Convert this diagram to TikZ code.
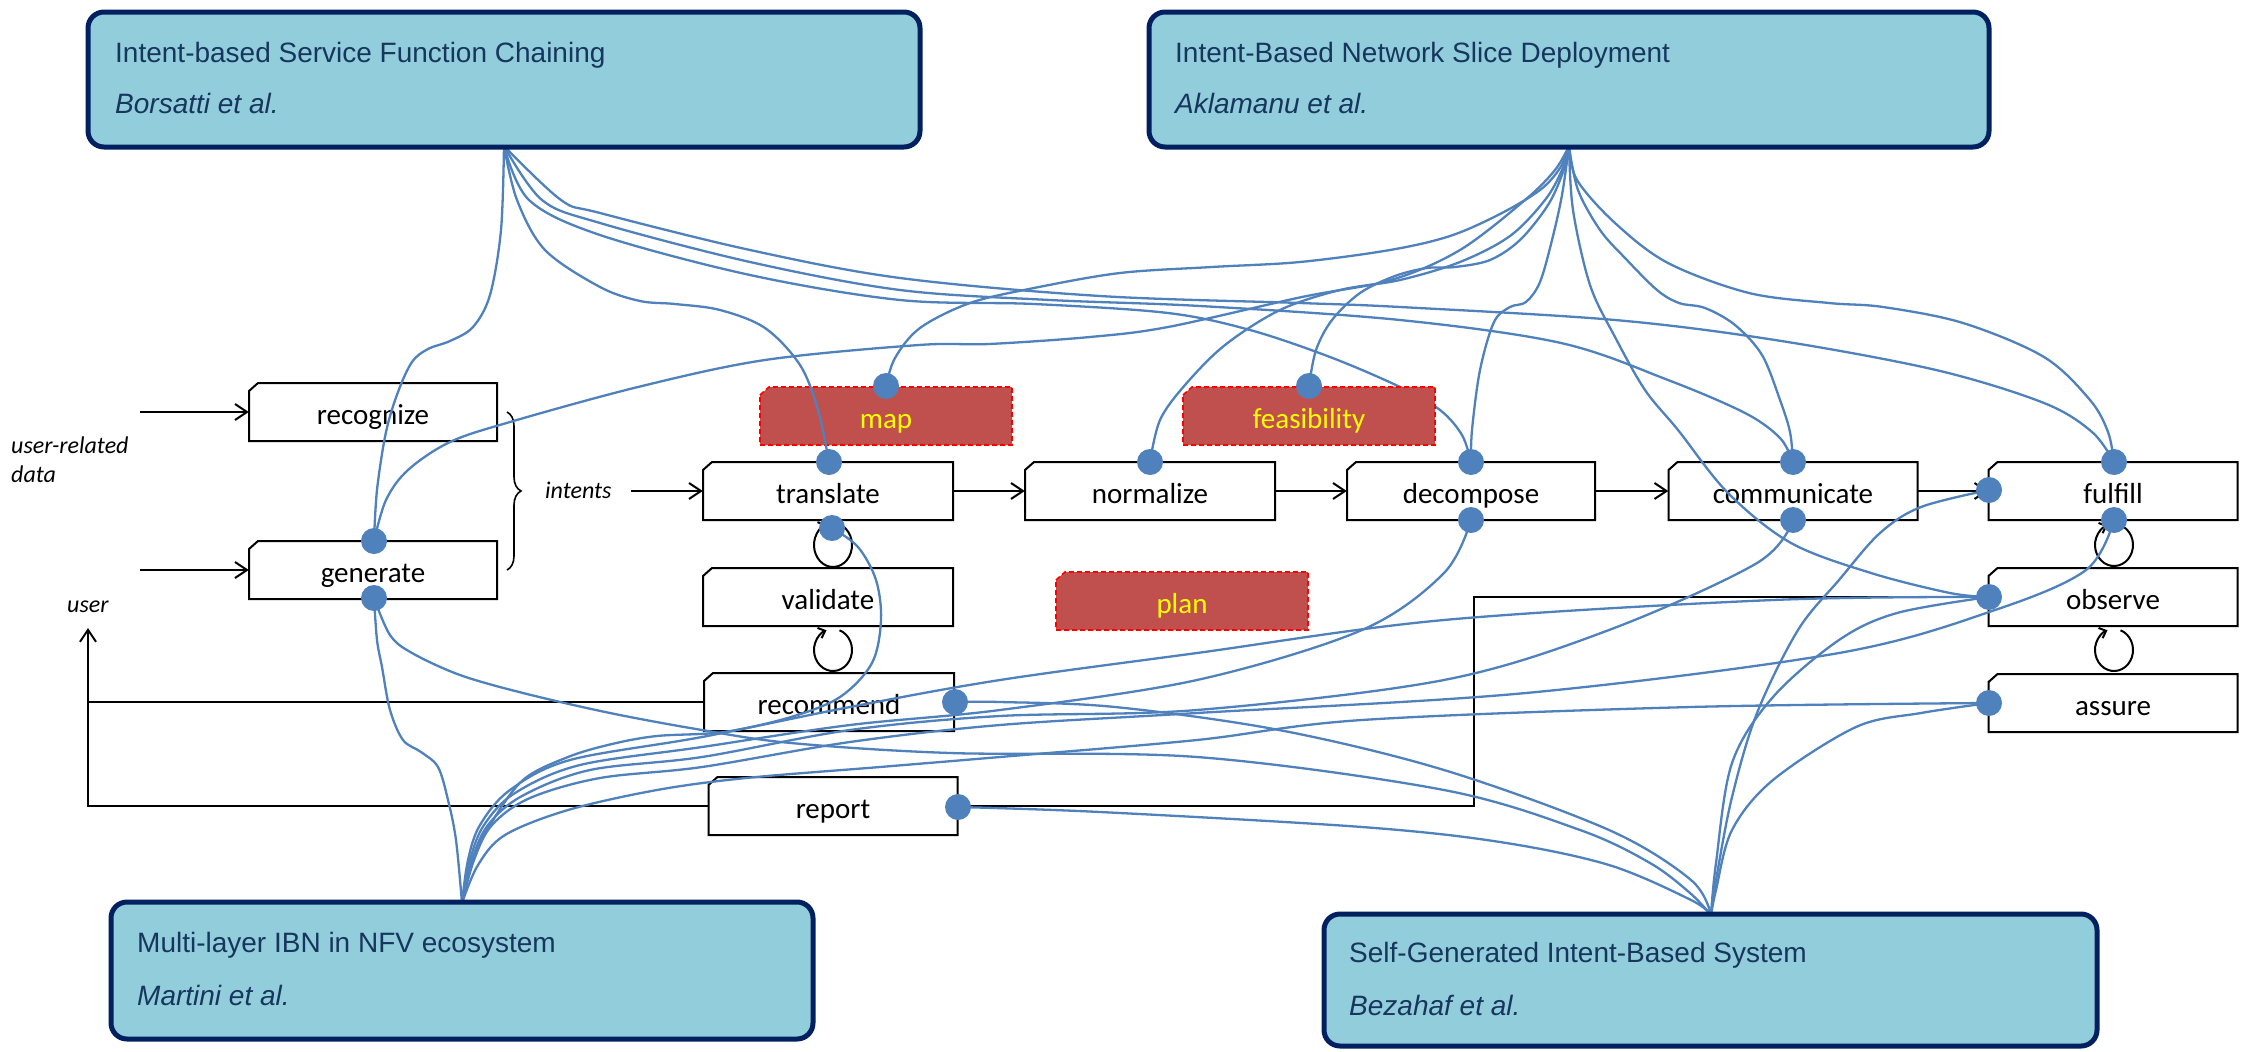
\documentclass[tikz,border=0pt]{standalone}
\usepackage{fontspec}
\setmainfont{Carlito}
\newfontfamily\arialf{Liberation Sans}
\usetikzlibrary{arrows.meta,decorations.pathreplacing,calc}
\definecolor{lblue}{RGB}{146,205,220}
\definecolor{navy}{RGB}{0,32,96}
\definecolor{navytxt}{RGB}{23,54,93}
\definecolor{conblue}{RGB}{79,129,189}
\definecolor{redfill}{RGB}{192,80,77}
\definecolor{ylw}{RGB}{255,255,0}
\newcommand\pbox[5]{%
  \node[proctext, minimum width=#4pt] (#1) at (#2,#3) {#5};
  \draw[procline, shift={(#2,#3)}] (-#4/2,-21) -- (-#4/2+9,-29) -- (#4/2,-29) -- (#4/2,29) -- (-#4/2,29) -- cycle;}
\newcommand\rbox[4]{%
  \path[redshape, shift={(#2,#3)}] (-126,-21) -- (-117,-29) -- (126,-29) -- (126,29) -- (-126,29) -- cycle;
  \node[redtext] (#1) at (#2,#3) {#4};}
\begin{document}
\begin{tikzpicture}[x=1pt,y=-1pt,
  proctext/.style={rectangle, fill=white, inner sep=0pt, minimum height=58pt, text height=30pt, text depth=6pt, font=\fontsize{29}{34}\selectfont, text=black},
  procline/.style={draw=black, line width=2pt, line join=miter},
  redshape/.style={fill=redfill, draw=red, line width=1.6pt, dash pattern=on 5pt off 3pt},
  redtext/.style={inner sep=0pt, text height=30pt, text depth=6pt, font=\fontsize{29}{34}\selectfont, text=ylw},
  lab/.style={inner sep=0pt, anchor=base west, font=\fontsize{24}{28}\selectfont\itshape},
  barrow/.style={draw=black, line width=2pt, -{Straight Barb[length=12pt,width=16pt,line width=2pt]}},
  blk/.style={draw=black, line width=2pt},
  thinblk/.style={draw=black, line width=1.6pt},
  loopst/.style={draw=black, line width=2pt, -{Straight Barb[length=6pt,width=11pt,line width=2pt]}},
  conn/.style={draw=conblue, line width=2.3pt, line cap=round},
  dot/.style={circle, fill=conblue, inner sep=0pt, minimum size=26pt},
  paper/.style={rectangle, rounded corners=16pt, draw=navy, line width=5pt, fill=lblue},
  ptitle/.style={inner sep=0pt, anchor=base west, font=\arialf\fontsize{28}{32}\selectfont, text=navytxt},
  pauth/.style={inner sep=0pt, anchor=base west, font=\arialf\itshape\fontsize{28}{32}\selectfont, text=navytxt}
]
\useasboundingbox (0,0) rectangle (2241,1052);
\fill[white] (0,0) rectangle (2241,1052);

% fan points
\coordinate (F1) at (504,146);
\coordinate (F2) at (1569,146);
\coordinate (F3) at (462,903);
\coordinate (F4) at (1711,915);

% process boxes
\pbox{rec}{373}{412}{248}{recognize}
\pbox{gen}{373}{570}{248}{generate}
\pbox{tr}{828}{491}{250}{translate}
\pbox{va}{828}{597}{250}{validate}
\pbox{rc}{829}{702}{250}{recommend}
\pbox{rp}{833}{806}{249}{report}
\pbox{no}{1150}{491}{250}{normalize}
\pbox{de}{1471}{491}{248}{decompose}
\pbox{co}{1793}{491}{249}{communicate}
\pbox{fu}{2113}{491}{249}{fulfill}
\pbox{ob}{2113}{597}{249}{observe}
\pbox{as}{2113}{703}{249}{assure}

% labels
\node[lab] (ur1) at (11,453) {user-related};
\node[lab] (ur2) at (11,482) {data};
\node[lab] (usr) at (67,612) {user};
\node[lab] (int) at (545,498) {intents};

% black arrows
\coordinate (a1) at (140,412);
\coordinate (a2) at (140,570);
\coordinate (a3) at (631,491);
\draw[barrow] (a1) -- (rec.west);
\draw[barrow] (a2) -- (gen.west);
\draw[barrow] (a3) -- (tr.west);
\draw[barrow] (tr.east) -- (no.west);
\draw[barrow] (no.east) -- (de.west);
\draw[barrow] (de.east) -- (co.west);
\draw[barrow] (co.east) -- (fu.west);
\coordinate (b1) at (507,412);
\coordinate (b2) at (507,570);
\draw[draw=black, line width=1.6pt, decorate, decoration={brace, amplitude=14pt}] (b1) -- (b2);

\coordinate (uA) at (88,628);
\coordinate (uJ) at (88,702);
\draw[blk] (rc.west) -- (uJ);
\draw[barrow] (rp.west) -| (uA);
\coordinate (oJ) at (1474,806);
\draw[thinblk] (ob.west) -| (oJ) -- (rp.east);

% loops
\coordinate (lp1) at (833,545);
\coordinate (lp2) at (833,650);
\coordinate (lp3) at (2114,545);
\coordinate (lp4) at (2114,650);
\draw[loopst] ($(lp1)+(-70:19 and 22)$) arc[start angle=-70, end angle=250, x radius=19, y radius=22];
\draw[loopst] ($(lp2)+(-70:19 and 21)$) arc[start angle=-70, end angle=250, x radius=19, y radius=21];
\draw[loopst] ($(lp3)+(-70:19 and 21)$) arc[start angle=-70, end angle=250, x radius=19, y radius=21];
\draw[loopst] ($(lp4)+(-70:19 and 21)$) arc[start angle=-70, end angle=250, x radius=19, y radius=21];

% dots (positions)
\coordinate (p-gT) at (374,541);
\coordinate (p-gB) at (374,598);
\coordinate (p-tT) at (829,462);
\coordinate (p-tB) at (832,528);
\coordinate (p-mT) at (886,386);
\coordinate (p-nT) at (1150,462);
\coordinate (p-feT) at (1309,386);
\coordinate (p-dT) at (1471,462);
\coordinate (p-dB) at (1471,520);
\coordinate (p-cT) at (1793,462);
\coordinate (p-cB) at (1793,520);
\coordinate (p-fT) at (2114,462);
\coordinate (p-fL) at (1989,490);
\coordinate (p-fB) at (2114,520);
\coordinate (p-oL) at (1989,597);
\coordinate (p-rcR) at (955,702);
\coordinate (p-rpR) at (958,807);
\coordinate (p-aL) at (1989,703);

% TL -> decompose (behind feasibility box)
\draw[conn] plot[smooth, tension=0.55] coordinates {(F1) (529,200) (600,235) (750,275) (900,300) (1034,304) (1168,313) (1250,330) (1330,357) (1400,387) (1440,410) (1462,435) (p-dT)};

% red boxes
\rbox{map}{886}{416}{map}
\rbox{fea}{1309}{416}{feasibility}
\rbox{plan}{1182}{601}{plan}

% TL curves
\draw[conn] plot[smooth, tension=0.55] coordinates {(F1) (501,230) (490,295) (473,327) (450,341) (428,349) (412,362) (398,392) (386,432) (377,490) (p-gT)};
\draw[conn] plot[smooth, tension=0.55] coordinates {(F1) (517,200) (545,250) (600,287) (640,301) (675,304) (720,310) (765,328) (800,365) (818,410) (p-tT)};
\draw[conn] plot[smooth, tension=0.55] coordinates {(F1) (542,200) (600,223) (750,262) (900,290) (1050,300) (1200,306) (1400,320) (1561,343) (1668,380) (1745,413) (1780,438) (p-cT)};
\draw[conn] plot[smooth, tension=0.55] coordinates {(F1) (561,200) (600,213) (750,250) (900,278) (1100,296) (1300,303) (1400,307) (1615,320) (1775,340) (1936,370) (2044,403) (2092,432) (p-fT)};

% TR curves
\draw[conn] plot[smooth, tension=0.55] coordinates {(p-mT) (895,358) (920,328) (970,303) (1034,288) (1120,273) (1212,267) (1300,262) (1390,250) (1450,236) (1500,214) (1540,190) (1560,168) (F2)};
\draw[conn] plot[smooth, tension=0.55] coordinates {(p-gT) (386,500) (408,470) (450,442) (510,422) (638,387) (765,360) (919,345) (989,344) (1090,337) (1168,327) (1302,297) (1391,280) (1460,250) (1525,200) (1555,170) (F2)};
\draw[conn] plot[smooth, tension=0.55] coordinates {(p-nT) (1160,420) (1185,385) (1225,345) (1280,310) (1340,290) (1400,280) (1460,262) (1510,236) (1545,200) (1562,170) (F2)};
\draw[conn] plot[smooth, tension=0.55] coordinates {(p-feT) (1316,350) (1332,320) (1360,293) (1395,276) (1427,268) (1455,267) (1490,260) (1520,240) (1548,205) (1563,172) (F2)};
\draw[conn] plot[smooth, tension=0.55] coordinates {(p-dT) (1472,430) (1480,370) (1494,322) (1510,307) (1526,302) (1540,282) (1552,240) (1562,195) (F2)};
\draw[conn] plot[smooth, tension=0.55] coordinates {(F2) (1578,190) (1600,230) (1625,258) (1657,290) (1679,303) (1705,308) (1735,325) (1762,355) (1780,400) (1790,432) (p-cT)};
\draw[conn] plot[smooth, tension=0.55] coordinates {(F2) (1577,180) (1615,223) (1668,263) (1749,293) (1829,303) (1883,307) (1963,323) (2044,357) (2090,400) (2108,432) (p-fT)};
\draw[conn] plot[smooth, tension=0.55] coordinates {(F2) (1573,210) (1590,285) (1615,337) (1645,390) (1678,430) (1728,493) (1791,543) (1871,573) (1950,593) (p-oL)};

% BL curves
\draw[conn] plot[smooth, tension=0.55] coordinates {(p-gB) (377,640) (382,667) (390,710) (403,740) (421,752) (438,767) (448,800) (456,840) (F3)};
\draw[conn] plot[smooth, tension=0.55] coordinates {(p-tB) (858,547) (876,580) (881,620) (872,663) (840,697) (791,717) (724,732) (657,736) (612,744) (568,757) (523,780) (490,825) (470,865) (F3)};
\draw[conn] plot[smooth, tension=0.55] coordinates {(F3) (468,860) (480,825) (510,790) (570,760) (702,737) (850,707) (1000,680) (1197,653) (1444,620) (1773,600) (p-oL)};
\draw[conn] plot[smooth, tension=0.55] coordinates {(F3) (470,860) (484,825) (515,793) (580,765) (702,747) (850,725) (1000,710) (1197,680) (1362,630) (1444,573) (p-dB)};
\draw[conn] plot[smooth, tension=0.55] coordinates {(F3) (472,860) (488,825) (522,796) (590,770) (702,757) (850,730) (1000,716) (1197,710) (1444,680) (1609,630) (1757,563) (p-cB)};
\draw[conn] plot[smooth, tension=0.55] coordinates {(F3) (474,860) (492,825) (530,798) (600,778) (702,767) (850,742) (1000,725) (1197,713) (1526,693) (1839,653) (1995,610) (2086,570) (p-fB)};
\draw[conn] plot[smooth, tension=0.55] coordinates {(F3) (478,865) (505,835) (568,810) (657,790) (746,778) (880,767) (1000,757) (1197,740) (1362,720) (1691,707) (p-aL)};

% BR curves
\draw[conn] plot[smooth, tension=0.55] coordinates {(p-gB) (390,635) (412,653) (460,675) (523,693) (610,713) (702,730) (791,743) (950,753) (1197,757) (1444,790) (1580,830) (1650,863) (1690,893) (F4)};
\draw[conn] plot[smooth, tension=0.55] coordinates {(p-rcR) (1000,702) (1115,707) (1279,730) (1444,770) (1609,830) (1691,880) (F4)};
\draw[conn] plot[smooth, tension=0.55] coordinates {(p-rpR) (1100,812) (1362,827) (1500,842) (1609,865) (1691,900) (F4)};
\draw[conn] plot[smooth, tension=0.55] coordinates {(p-fL) (1921,507) (1880,533) (1839,580) (1798,630) (1757,713) (1732,797) (1716,880) (F4)};
\draw[conn] plot[smooth, tension=0.55] coordinates {(p-oL) (1897,613) (1839,640) (1773,697) (1732,763) (1716,863) (F4)};
\draw[conn] plot[smooth, tension=0.55] coordinates {(p-aL) (1921,713) (1856,727) (1773,780) (1732,830) (1716,890) (F4)};

% dots
\foreach \n in {gT,gB,tT,tB,mT,nT,feT,dT,dB,cT,cB,fT,fL,fB,oL,rcR,rpR,aL}
  \node[dot] (d-\n) at (p-\n) {};

% paper boxes
\node[paper, minimum width=832pt, minimum height=135pt] (pTL) at (504,79.5) {};
\node[paper, minimum width=840pt, minimum height=135pt] (pTR) at (1569,79.5) {};
\node[paper, minimum width=702pt, minimum height=137pt] (pBL) at (462,970.5) {};
\node[paper, minimum width=773pt, minimum height=132pt] (pBR) at (1710.5,980) {};
\node[ptitle] (tTL) at (115,62) {Intent-based Service Function Chaining};
\node[pauth] (aTL) at (115,113) {Borsatti et al.};
\node[ptitle] (tTR) at (1175,62) {Intent-Based Network Slice Deployment};
\node[pauth] (aTR) at (1175,113) {Aklamanu et al.};
\node[ptitle] (tBL) at (137,952) {Multi-layer IBN in NFV ecosystem};
\node[pauth] (aBL) at (137,1005) {Martini et al.};
\node[ptitle] (tBR) at (1349,962) {Self-Generated Intent-Based System};
\node[pauth] (aBR) at (1349,1015) {Bezahaf et al.};
\end{tikzpicture}
\end{document}
